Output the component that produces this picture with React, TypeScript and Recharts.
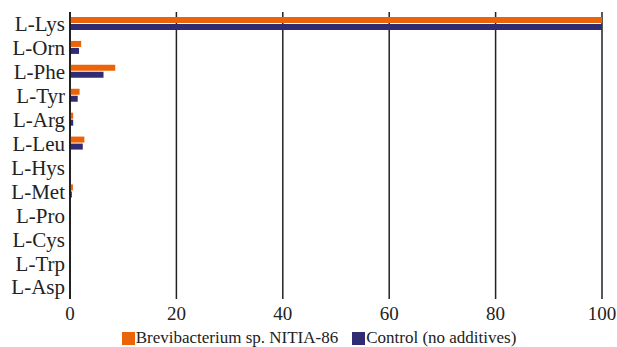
import React from "react";
import { BarChart, Bar, XAxis, YAxis, CartesianGrid, Legend } from "recharts";

const categories = ["L-Lys", "L-Orn", "L-Phe", "L-Tyr", "L-Arg", "L-Leu", "L-Hys", "L-Met", "L-Pro", "L-Cys", "L-Trp", "L-Asp"];
const brevibacterium = [100, 2.1, 8.5, 1.8, 0.6, 2.7, 0, 0.55, 0, 0, 0, 0];
const control = [100, 1.7, 6.3, 1.45, 0.6, 2.4, 0, 0.35, 0, 0, 0, 0];
const xTicks = [0, 20, 40, 60, 80, 100];
const seriesNames = ["Brevibacterium sp. NITIA-86", "Control (no additives)"];
const colors = ["#EB6408", "#2F2C73"];

const data = categories.map((c, i) => ({ name: c, brev: brevibacterium[i], ctrl: control[i] }));

const FONT = '"Liberation Serif", "Times New Roman", serif';

const renderLegend = () => (
  <div style={{ display: "flex", justifyContent: "center", alignItems: "center", fontFamily: FONT, fontSize: 17, lineHeight: "18px", height: 18, color: "#222", paddingLeft: 36 }}>
    {seriesNames.map((n, i) => (
      <span key={n} style={{ display: "inline-flex", alignItems: "center", marginRight: i === 0 ? 14 : 0 }}>
        <span style={{ display: "inline-block", width: 13, height: 13, background: colors[i], marginRight: 1 }} />
        {n}
      </span>
    ))}
  </div>
);

export default function App() {
  return (
    <div style={{ width: 617, height: 347, background: "#fff" }}>
      <style>{`body{margin:0}`}</style>
      <BarChart
        width={617}
        height={347}
        data={data}
        layout="vertical"
        margin={{ top: 12, right: 15, left: 0, bottom: 0 }}
        barSize={6}
        barGap={1}
        barCategoryGap={0}
      >
        <CartesianGrid horizontal={false} vertical={true} stroke="#222" strokeWidth={1.5} strokeOpacity={1} />
        <XAxis
          type="number"
          domain={[0, 100]}
          ticks={xTicks}
          axisLine={false}
          tickLine={false}
          tick={{ fontFamily: FONT, fontSize: 19, fill: "#222" }}
          tickMargin={2}
          height={30}
          interval={0}
        />
        <YAxis
          type="category"
          dataKey="name"
          width={70}
          axisLine={{ stroke: "#111", strokeWidth: 1.5 }}
          tickLine={false}
          tickSize={5}
          tick={{ fontFamily: FONT, fontSize: 21, fill: "#222" }}
          tickMargin={0}
          interval={0}
        />
        <Legend verticalAlign="bottom" content={renderLegend} wrapperStyle={{ bottom: 0 }} />
        <Bar dataKey="brev" name={seriesNames[0]} fill={colors[0]} isAnimationActive={false} />
        <Bar dataKey="ctrl" name={seriesNames[1]} fill={colors[1]} isAnimationActive={false} />
      </BarChart>
    </div>
  );
}
